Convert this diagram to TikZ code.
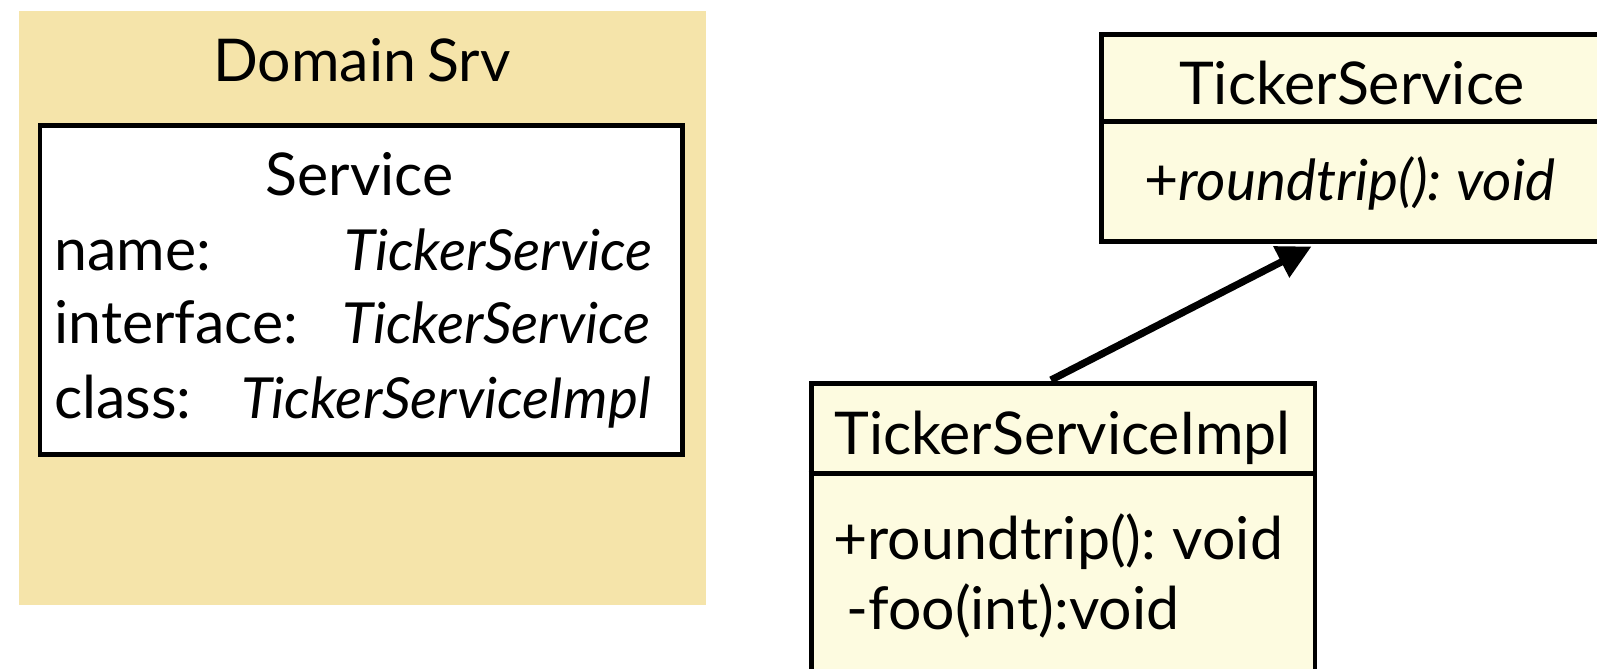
\documentclass[tikz,border=0pt]{standalone}
\usepackage{fontspec}
\setmainfont[WordSpace=0.75]{Lato}
\usetikzlibrary{arrows.meta}
\definecolor{tanbg}{HTML}{F5E4AA}
\definecolor{creambg}{HTML}{FDFBE0}
\begin{document}
\begin{tikzpicture}[x=0.5pt,y=-0.5pt,
  txt/.style={inner sep=0pt, font=\fontsize{29.5}{35}\selectfont},
  ital/.style={inner sep=0pt, font=\fontsize{28.3}{35}\selectfont\itshape},
  box/.style={draw=black, line width=2.4pt, inner sep=0pt, anchor=north west},
  divider/.style={line width=2.4pt},
  arr/.style={line width=3.6pt, -{Triangle[length=17pt,width=16.7pt]}}]
\useasboundingbox (0,0) rectangle (1597,669);
\clip (0,0) rectangle (1597,669);
% package background
\fill[tanbg] (19.3,10.7) rectangle (705.7,605);
\node[txt, anchor=base] (dom) at (362,81) {Domain Srv};
% service box
\node[box, fill=white, minimum width=321.4pt, minimum height=164.65pt] (svc) at (37.6,122.9) {};
\node[txt, anchor=base] (svct) at (359.7,195.4) {Service};
\node[txt, anchor=base west] (n1) at (54,270) {name:};
\node[ital, anchor=base east] (v1) at (653,270) {TickerService};
\node[txt, anchor=base west] (n2) at (54,343.4) {interface:};
\node[ital, anchor=base east] (v2) at (651,343.4) {TickerService};
\node[txt, anchor=base west] (n3) at (54,418) {class:};
\node[ital, anchor=base east] (v3) at (651,418) {TickerServiceImpl};
% TickerService interface
\node[box, fill=creambg, minimum width=270.5pt, minimum height=103.5pt] (ts) at (1099,32) {};
\coordinate (d1) at (0,121.6);
\draw[divider] (ts.west |- d1) -- (ts.east |- d1);
\node[txt, anchor=base] (tst) at (1352,104.5) {TickerService};
\node[txt, anchor=base west] (tsm) at (1144,200.5) {+{\fontsize{28.3}{35}\selectfont\itshape roundtrip(): void}};
% TickerServiceImpl
\node[box, fill=creambg, minimum width=251.95pt, minimum height=159.5pt] (impl) at (808.7,381) {};
\coordinate (d2) at (0,473.5);
\draw[divider] (impl.west |- d2) -- (impl.east |- d2);
\node[txt, anchor=base] (implt) at (1062.5,454.4) {TickerServiceImpl};
\node[txt, anchor=base west] (implm1) at (833,559) {+roundtrip(): void};
\node[txt, anchor=base west] (implm2) at (846,629) {-foo(int):void};
% realization arrow
\coordinate (a1) at (1051,380);
\coordinate (a2) at (1311.5,246.5);
\draw[arr] (a1) -- (a2);
\end{tikzpicture}
\end{document}
